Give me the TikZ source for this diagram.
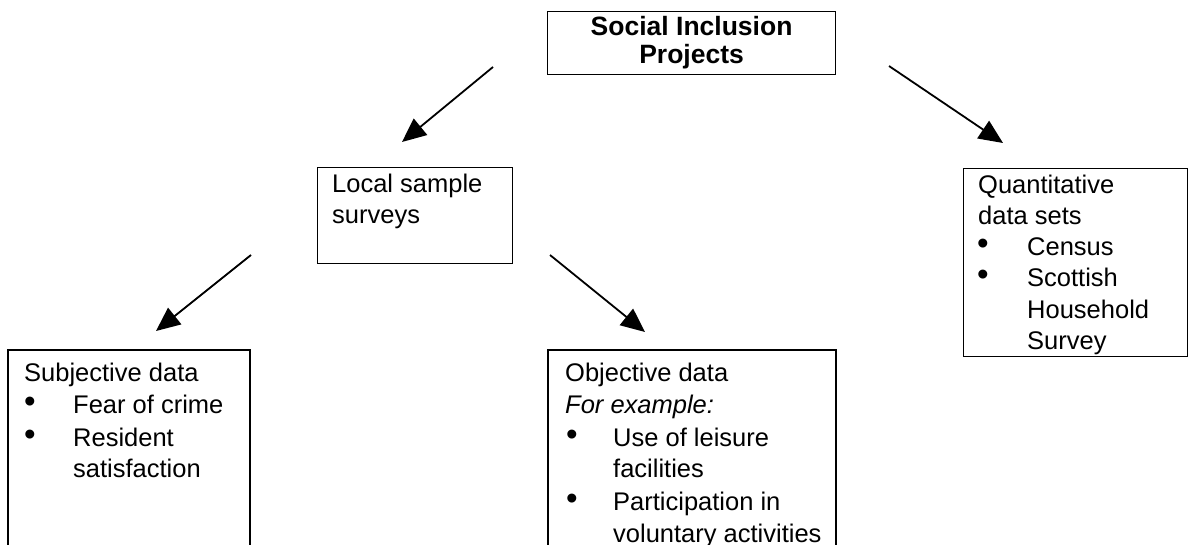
\documentclass[tikz,border=0pt]{standalone}
\usepackage{fontspec}
\setmainfont{Liberation Sans}
\usetikzlibrary{arrows.meta}
\begin{document}
\begin{tikzpicture}[x=1pt,y=-1pt,
  txt/.style={anchor=base west,inner sep=0pt,font=\fontsize{25.5}{31}\selectfont},
  bul/.style={anchor=base,inner sep=0pt,font=\fontsize{33}{31}\selectfont,yshift=1pt},
  boxline/.style={line width=1.2pt},
  frame/.style={draw,boxline,inner sep=0pt,anchor=north west},
  arr/.style={line width=1.8pt,-{Triangle[length=24pt,width=21pt]}}]
\useasboundingbox (0,0) rectangle (1191,545);

% top box
\node[frame,minimum width=288pt,minimum height=63pt,align=center,
      anchor=north west,font=\bfseries\fontsize{26.5}{28}\selectfont] (top) at (547,11)
      {Social Inclusion\\Projects};

% local sample surveys
\node[frame,minimum width=195pt,minimum height=96pt] (local) at (317,167) {};
\node[txt] (l1) at (332,193) {Local sample};
\node[txt] (l2) at (332,224) {surveys};

% quantitative
\node[frame,minimum width=224pt,minimum height=188pt] (quant) at (963,168) {};
\node[txt] (q1) at (978,194) {Quantitative};
\node[txt] (q2) at (978,225) {data sets};
\node[bul] (qb1) at (983,256) {\textbullet};
\node[bul] (qb2) at (983,287) {\textbullet};
\node[txt] (q3) at (1027,256) {Census};
\node[txt] (q4) at (1027,287) {Scottish};
\node[txt] (q5) at (1027,318) {Household};
\node[txt] (q6) at (1027,349) {Survey};

% subjective (open at bottom)
\draw[boxline] (8,546) -- (8,350) -- (250,350) -- (250,546);
\coordinate (subj) at (129,350);
\node[txt] (s1) at (24,381) {Subjective data};
\node[bul] (sb1) at (30,413) {\textbullet};
\node[bul] (sb2) at (30,446) {\textbullet};
\node[txt] (s2) at (73,413) {Fear of crime};
\node[txt] (s3) at (73,446) {Resident};
\node[txt] (s4) at (73,477) {satisfaction};

% objective (open at bottom)
\draw[boxline] (548,546) -- (548,350) -- (836,350) -- (836,546);
\coordinate (obj) at (692,350);
\node[txt] (o1) at (565,381) {Objective data};
\node[txt,font=\itshape\fontsize{25.5}{31}\selectfont] (o2) at (565,413) {For example:};
\node[bul] (ob1) at (572,446) {\textbullet};
\node[bul] (ob2) at (572,510) {\textbullet};
\node[txt] (o3) at (613,446) {Use of leisure};
\node[txt] (o4) at (613,477) {facilities};
\node[txt] (o5) at (613,510) {Participation in};
\node[txt] (o6) at (613,542) {voluntary activities};

% arrow end points
\coordinate (a1s) at (493,67);  \coordinate (a1e) at (402,142);
\coordinate (a2s) at (889,66);  \coordinate (a2e) at (1003,143);
\coordinate (a3s) at (251,255); \coordinate (a3e) at (156,331);
\coordinate (a4s) at (550,255); \coordinate (a4e) at (645,332);

\draw[arr] (a1s) -- (a1e);
\draw[arr] (a2s) -- (a2e);
\draw[arr] (a3s) -- (a3e);
\draw[arr] (a4s) -- (a4e);
\end{tikzpicture}
\end{document}
